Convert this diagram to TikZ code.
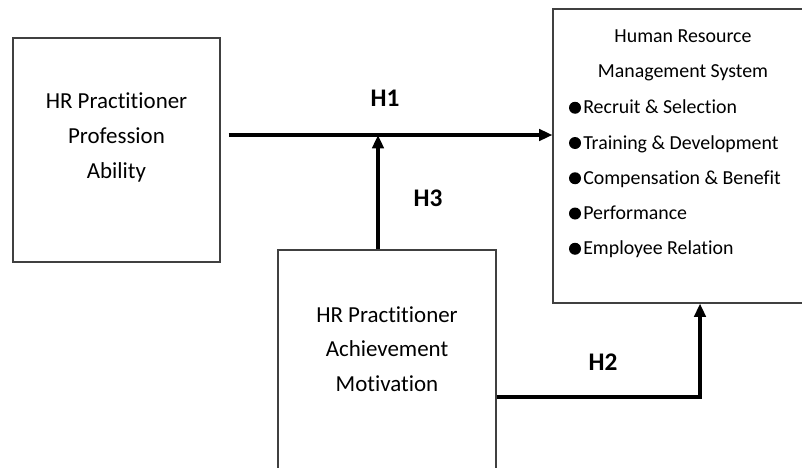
\documentclass[tikz,border=0pt]{standalone}
\usepackage{fontspec}
\setmainfont{Carlito}[Ligatures=NoCommon]
\usetikzlibrary{arrows.meta}

\begin{document}
\begin{tikzpicture}[x=0.75pt,y=-0.75pt,
    box/.style={draw=black!75,line width=0.8pt,inner sep=0pt},
    txt/.style={align=center,inner sep=0pt,font=\fontsize{17.2}{26}\selectfont},
    sys/.style={inner sep=0pt,font=\fontsize{14.9}{26.4}\selectfont},
    hyp/.style={inner sep=0pt,font=\fontsize{19}{23}\selectfont\bfseries},
    link/.style={line width=2.8pt,-{Triangle[length=10pt,width=8.5pt]}}]
  \clip (0,0) rectangle (802,467);
  % boxes
  \node[box,minimum width=155.25pt,minimum height=168pt] (ability) at (116.5,150) {};
  \node[txt] (abilitytxt) at (116.5,137.5) {HR Practitioner\\Profession\\Ability};
  \node[box,minimum width=163.5pt,minimum height=180pt] (motive) at (387,370) {};
  \node[txt] (motivetxt) at (387,349) {HR Practitioner\\Achievement\\Motivation};
  \node[box,minimum width=195pt,minimum height=220.5pt] (hrm) at (683,156) {};
  \node[sys,align=center] (hrmtitle) at (683,55.5) {Human Resource\\Management System};
  \foreach \practice [count=\i] in {Recruit \& Selection,Training \& Development,
      Compensation \& Benefit,Performance,Employee Relation}{
    \fill (575,{72.5+35.25*\i}) circle (6);
    \node[sys,anchor=base west] (practice\i) at (583,{78.5+35.25*\i}) {\practice};
  }
  % hypotheses
  \coordinate (j) at (378,135);
  \coordinate (k) at (700,397);
  \draw[link,shorten <=6pt] (ability.east |- j) -- (j -| hrm.west);
  \draw[link] (j |- motive.north) -- (j);
  \draw[link] (k -| motive.east) -- (k) -- (k |- hrm.south);
  \node[hyp] (h1) at (385,98) {H1};
  \node[hyp] (h3) at (428,198) {H3};
  \node[hyp] (h2) at (603,362) {H2};
\end{tikzpicture}
\end{document}
